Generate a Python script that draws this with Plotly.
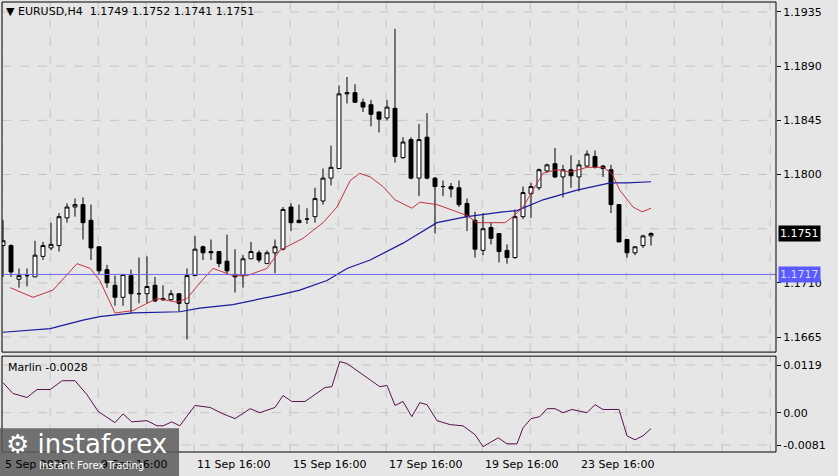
import plotly.graph_objects as go

# ---- data (H4 candles) ----
opens = [1.1741,1.1741,1.1713,1.1716,1.1715,1.1732,1.1739,1.1741,1.1764,1.1773,
         1.1775,1.1762,1.1740,1.1721,1.1708,1.1698,1.1716,1.1701,1.1701,1.1708,
         1.1697,1.1696,1.1701,1.1693,1.1716,1.1740,1.1736,1.1736,1.1728,1.1717,
         1.1716,1.1730,1.1735,1.1726,1.1735,1.1738,1.1773,1.1762,1.1763,1.1765,
         1.1778,1.1797,1.1805,1.1867,1.1868,1.1860,1.1858,1.1852,1.1847,1.1855,
         1.1814,1.1829,1.1797,1.1831,1.1797,1.1790,1.1790,1.1789,1.1776,1.1762,
         1.1737,1.1756,1.1751,1.1737,1.1731,1.1765,1.1784,1.1789,1.1803,1.1809,
         1.1798,1.1804,1.1798,1.1807,1.1815,1.1807,1.1804,1.1775,1.1746,1.1735,
         1.1741,1.1749]
highs = [1.1762,1.1742,1.1722,1.1722,1.1745,1.1744,1.1760,1.1768,1.1776,1.1780,
         1.1781,1.1775,1.1740,1.1725,1.1716,1.1717,1.1721,1.1731,1.1732,1.1715,
         1.1708,1.1704,1.1701,1.1722,1.1749,1.1741,1.1746,1.1736,1.1750,1.1738,
         1.1733,1.1744,1.1737,1.1737,1.1746,1.1773,1.1776,1.1775,1.1772,1.1789,
         1.1805,1.1824,1.1874,1.1881,1.1875,1.1863,1.1862,1.1852,1.1862,1.1921,
         1.1831,1.1831,1.1842,1.1851,1.1798,1.1795,1.1793,1.1795,1.1780,1.1769,
         1.1768,1.1760,1.1751,1.1742,1.1771,1.1790,1.1793,1.1805,1.1809,1.1822,
         1.1808,1.1816,1.1812,1.1820,1.1820,1.1808,1.1808,1.1775,1.1746,1.1740,
         1.1750,1.1752]
lows = [1.1715,1.1715,1.1706,1.1707,1.1715,1.1729,1.1737,1.1736,1.1760,1.1765,
        1.1746,1.1729,1.1717,1.1706,1.1691,1.1691,1.1685,1.1693,1.1693,1.1694,
        1.1695,1.1695,1.1686,1.1663,1.1716,1.1729,1.1729,1.1723,1.1717,1.1702,
        1.1706,1.1730,1.1727,1.1726,1.1718,1.1737,1.1753,1.1760,1.1759,1.1760,
        1.1775,1.1791,1.1805,1.1859,1.1860,1.1852,1.1840,1.1835,1.1845,1.1810,
        1.1813,1.1796,1.1782,1.1796,1.1751,1.1782,1.1781,1.1773,1.1753,1.1731,
        1.1733,1.1742,1.1727,1.1726,1.1730,1.1763,1.1764,1.1787,1.1802,1.1797,
        1.1781,1.1789,1.1786,1.1806,1.1805,1.1798,1.1768,1.1744,1.1731,1.1733,
        1.1739,1.1741]
closes = [1.1745,1.1719,1.1716,1.1716,1.1733,1.1741,1.1742,1.1765,1.1773,1.1775,
          1.1760,1.1739,1.1720,1.1710,1.1698,1.1717,1.1701,1.1701,1.1707,1.1695,
          1.1696,1.1701,1.1693,1.1716,1.1738,1.1735,1.1735,1.1726,1.1720,1.1715,
          1.1730,1.1736,1.1729,1.1735,1.1740,1.1771,1.1760,1.1760,1.1763,1.1780,
          1.1797,1.1806,1.1867,1.1868,1.1860,1.1856,1.1850,1.1846,1.1856,1.1815,
          1.1827,1.1797,1.1829,1.1797,1.1790,1.1790,1.1788,1.1775,1.1765,1.1738,
          1.1755,1.1747,1.1736,1.1731,1.1765,1.1785,1.1790,1.1804,1.1808,1.1798,
          1.1804,1.1799,1.1808,1.1817,1.1806,1.1805,1.1775,1.1744,1.1735,1.1740,
          1.1749,1.1751]

fast_ma_pos = [0.9,3.75,6.25,9.25,10.9,12.1,14,16.25,18,19.25,21.75,23,24.6,26.25,28.75,30.5,33,34.6,
               37.5,40,41.75,43.4,44.6,45.9,47.5,49,51.1,52.1,54.25,58,59.25,62.75,63.75,65,66.25,
               67.5,69.25,70.9,73,75,76.1,77.1,78.75,79.9,81]
fast_ma_val = [1.1706,1.1698,1.1704,1.1726,1.1722,1.1712,1.1685,1.1687,1.1693,1.1697,1.1694,1.1697,
               1.1710,1.1722,1.1716,1.1716,1.1722,1.1737,1.1747,1.1760,1.1773,1.1795,1.1801,1.1798,
               1.1790,1.1779,1.1772,1.1777,1.1775,1.1766,1.1760,1.1760,1.1765,1.1773,1.1787,1.1801,
               1.1804,1.1802,1.1806,1.1806,1.1801,1.1787,1.1773,1.1769,1.1772]
slow_ma_pos = [0,3.75,5.9,10,12.1,16.25,22.1,24.6,28.75,34.6,37.1,40.5,43,45.9,50,54.25,58,62.5,
               64.25,67.5,71.75,73.75,75.9,78,81]
slow_ma_val = [1.1669,1.1671,1.1672,1.1679,1.1682,1.1685,1.1686,1.1689,1.1692,1.1700,1.1704,1.1712,
               1.1722,1.1729,1.1743,1.1760,1.1765,1.1769,1.1770,1.1779,1.1787,1.1790,1.1793,1.1793,1.1794]

marlin_pos = [0,1.25,3,4.25,5.9,7.4,9,10.5,11.9,14,15,16.1,18,19.25,20,21.1,22.1,24,25.9,27.5,29,
              30.9,32.1,34,35,36.1,37.75,40.25,41.1,42.1,43,44.6,47.1,48,49,50,51.1,52.1,53,
              54.25,55.9,57.5,59,60,61.9,63,64.25,65,66,67.1,68,69,70,71.1,73,74,75,77,78,79,80,81]
marlin_val = [0.0075,0.0048,0.0038,0.0058,0.0058,0.0080,0.0080,0.0045,0.0003,-0.0025,-0.0003,
              -0.0023,-0.0020,-0.0033,-0.0033,-0.0023,-0.0033,0.0018,0.0013,-0.0003,-0.0015,0.0010,
              0.0000,0.0013,0.0043,0.0028,0.0028,0.0063,0.0065,0.0128,0.0123,0.0100,0.0065,0.0068,
              0.0018,0.0028,-0.0010,0.0025,0.0020,-0.0020,-0.0030,-0.0033,-0.0055,-0.0085,-0.0063,
              -0.0078,-0.0078,-0.0038,-0.0015,-0.0010,0.0010,0.0010,0.0000,0.0008,0.0000,0.0020,
              0.0008,0.0008,-0.0058,-0.0068,-0.0058,-0.0040]

level_line = 1.1717
price_ticks = [1.1665,1.1710,1.1800,1.1845,1.1890,1.1935]
grid_prices = [1.1665,1.1710,1.1755,1.1800,1.1845,1.1890,1.1935]
osc_ticks = [0.0119,0.0,-0.0081]
time_tick_pos = [0,12,24,36,48,60,72]
time_tick_labels = ["5 Sep 2025","9 Sep 16:00","11 Sep 16:00","15 Sep 16:00","17 Sep 16:00",
                    "19 Sep 16:00","23 Sep 16:00"]
title_text = "EURUSD,H4  1.1749 1.1752 1.1741 1.1751"

n = min(len(marlin_pos), len(marlin_val))
marlin_pos, marlin_val = marlin_pos[:n], marlin_val[:n]

idx = list(range(len(opens)))
FONT = "DejaVu Sans"
BG = "#e6e6e6"

fig = go.Figure()
fig.add_trace(go.Candlestick(
    x=idx, open=opens, high=highs, low=lows, close=closes,
    increasing=dict(line=dict(color="black", width=1), fillcolor="white"),
    decreasing=dict(line=dict(color="black", width=1), fillcolor="black"),
    whiskerwidth=0, xaxis="x", yaxis="y", showlegend=False, hoverinfo="skip"))
fig.add_trace(go.Scatter(x=slow_ma_pos, y=slow_ma_val, mode="lines",
                         line=dict(color="#1a1aa0", width=1.2), xaxis="x", yaxis="y", showlegend=False))
fig.add_trace(go.Scatter(x=fast_ma_pos, y=fast_ma_val, mode="lines",
                         line=dict(color="#c8323c", width=1), xaxis="x", yaxis="y", showlegend=False))
fig.add_trace(go.Scatter(x=marlin_pos, y=marlin_val, mode="lines",
                         line=dict(color="#5a1050", width=1), xaxis="x", yaxis="y2", showlegend=False))

XR = [-0.125, 96.625]
shapes = []
shapes.append(dict(type="line", xref="paper", x0=0, x1=1, yref="y", y0=level_line, y1=level_line,
                   line=dict(color="#6b6bf0", width=1)))
for gp in grid_prices:
    shapes.append(dict(type="line", xref="paper", x0=0, x1=1, yref="y", y0=gp, y1=gp, layer="below",
                       line=dict(color="#c4c4c4", width=1, dash="dash")))
for k in range(0, 100, 6):
    shapes.append(dict(type="line", xref="x", x0=k - 0.1, x1=k - 0.1, yref="y domain", y0=0, y1=1,
                       layer="below", line=dict(color="#c4c4c4", width=1, dash="dash")))
    shapes.append(dict(type="line", xref="x", x0=k - 0.1, x1=k - 0.1, yref="y2 domain", y0=0, y1=1,
                       layer="below", line=dict(color="#c4c4c4", width=1, dash="dash")))
for ov in osc_ticks:
    shapes.append(dict(type="line", xref="paper", x0=0, x1=1, yref="y2", y0=ov, y1=ov, layer="below",
                       line=dict(color="#c4c4c4", width=1, dash="dash")))
shapes.append(dict(type="rect", xref="paper", x0=0, x1=1, yref="y domain", y0=0, y1=1,
                   line=dict(color="black", width=1)))
shapes.append(dict(type="rect", xref="paper", x0=0, x1=1, yref="y2 domain", y0=0, y1=1,
                   line=dict(color="black", width=1)))
shapes.append(dict(type="rect", xref="paper", yref="paper", x0=-0.003, x1=0.2287, y0=-0.055, y1=0.053,
                   fillcolor="#5a5a5a", opacity=0.85, line=dict(width=0)))

ann = []
ann.append(dict(text="▼ " + title_text, xref="paper", yref="paper", x=0.003, y=0.997,
                xanchor="left", yanchor="top", showarrow=False,
                font=dict(family=FONT, size=11, color="black")))
ann.append(dict(text="Marlin -0.0028", xref="paper", yref="y2 domain", x=0.005, y=0.97,
                xanchor="left", yanchor="top", showarrow=False,
                font=dict(family=FONT, size=11, color="black")))
for p, lab in zip(time_tick_pos, time_tick_labels):
    ann.append(dict(text=lab, xref="x", yref="paper", x=p, y=-0.027, xanchor="left", yanchor="middle",
                    showarrow=False, font=dict(family=FONT, size=11, color="black")))
ann.append(dict(text="1.1751", xref="paper", yref="y", x=1.002, y=closes[-1], xanchor="left",
                showarrow=False, bgcolor="black", font=dict(family=FONT, size=11, color="white"),
                borderpad=1))
ann.append(dict(text="1.1717", xref="paper", yref="y", x=1.002, y=level_line, xanchor="left",
                showarrow=False, bgcolor="#5a5aff", font=dict(family=FONT, size=11, color="#d8d8ff"),
                borderpad=1))
ann.append(dict(text="⚙ instaforex", xref="paper", yref="paper", x=0.003, y=0.055,
                xanchor="left", yanchor="top", showarrow=False,
                font=dict(family=FONT, size=26, color="white")))
ann.append(dict(text="Instant Forex Trading", xref="paper", yref="paper", x=0.045, y=-0.03,
                xanchor="left", yanchor="middle", showarrow=False,
                font=dict(family=FONT, size=10, color="white")))

fig.update_layout(
    width=838, height=476, margin=dict(l=2, r=62, t=2, b=24),
    paper_bgcolor=BG, plot_bgcolor=BG,
    xaxis=dict(range=XR, showgrid=False, showticklabels=False, zeroline=False,
               rangeslider=dict(visible=False), anchor="y2", fixedrange=True),
    yaxis=dict(domain=[0.222, 1], range=[1.16525, 1.19433], side="right", tickvals=price_ticks,
               ticktext=[f"{v:.4f}" for v in price_ticks], showgrid=False, zeroline=False,
               ticks="outside", ticklen=4, tickcolor="black",
               tickfont=dict(family=FONT, size=11, color="black")),
    yaxis2=dict(domain=[0, 0.213], range=[-0.00985, 0.01415], side="right", tickvals=osc_ticks,
                ticktext=["0.0119", "0.00", "-0.0081"], showgrid=False, zeroline=False,
                ticks="outside", ticklen=4, tickcolor="black",
                tickfont=dict(family=FONT, size=11, color="black")),
    shapes=shapes, annotations=ann, showlegend=False)

fig.write_html("out.html", config={"displayModeBar": False},
               post_script="document.body.style.margin='0';document.body.style.background='#e6e6e6';")
